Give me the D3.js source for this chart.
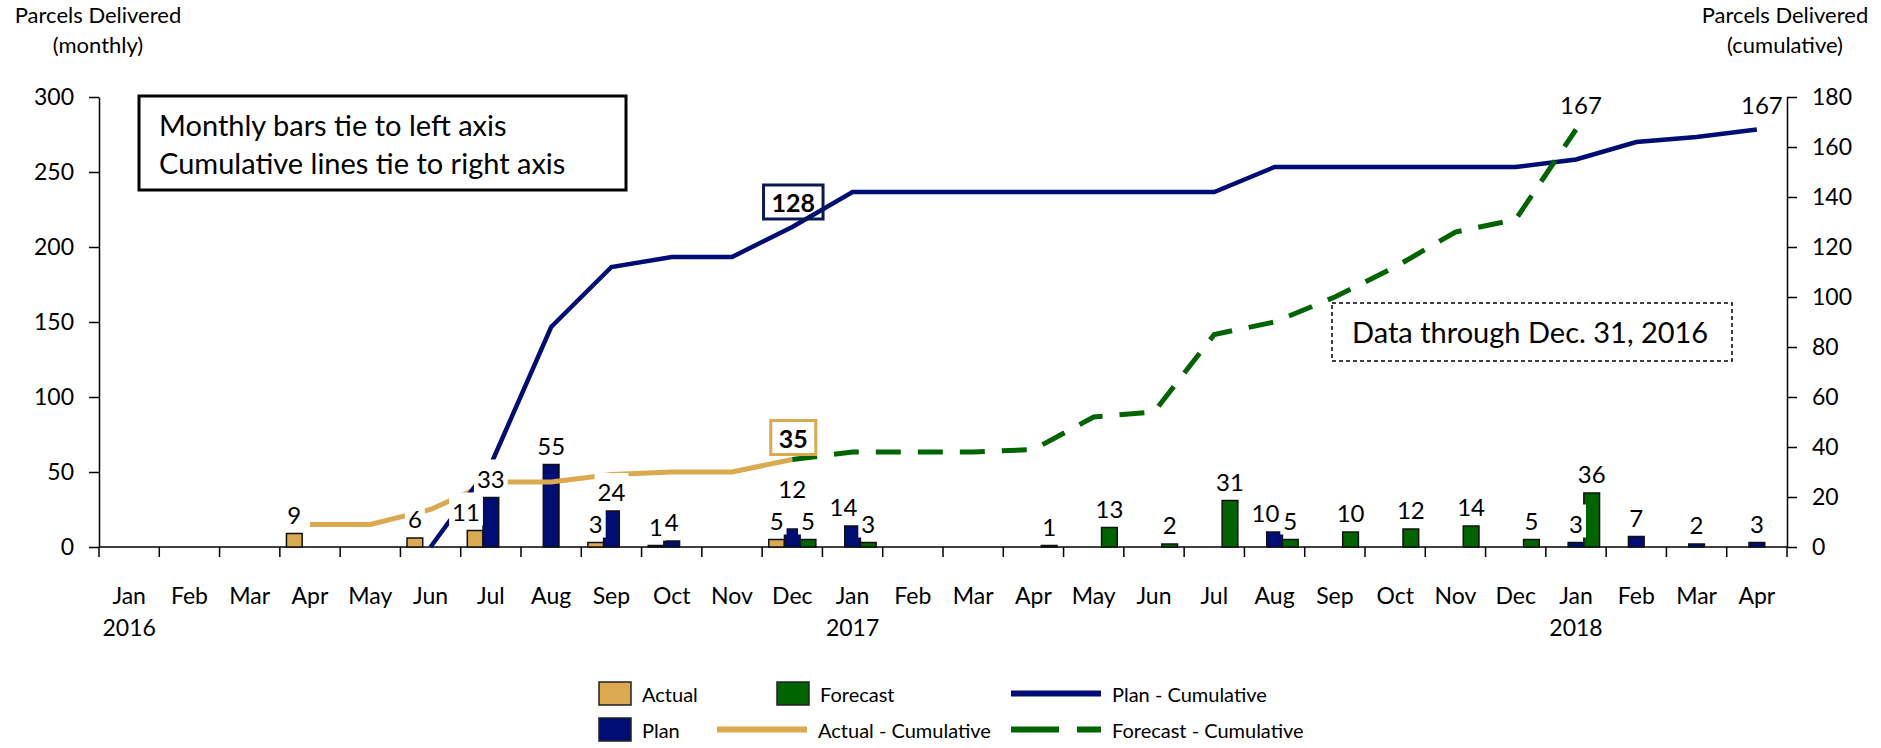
<!DOCTYPE html>
<html>
<head>
<meta charset="utf-8">
<script src="https://cdn.jsdelivr.net/npm/d3@7"></script>
<style>
  body { margin: 0; background: #fff; }
  svg { display: block; font-family: Lato, 'Open Sans', sans-serif; }
</style>
</head>
<body>
<svg id="chart" width="1881" height="748"></svg>
<script>
var categories = ['Jan 2016', 'Feb 2016', 'Mar 2016', 'Apr 2016', 'May 2016', 'Jun 2016', 'Jul 2016',
  'Aug 2016', 'Sep 2016', 'Oct 2016', 'Nov 2016', 'Dec 2016', 'Jan 2017', 'Feb 2017', 'Mar 2017',
  'Apr 2017', 'May 2017', 'Jun 2017', 'Jul 2017', 'Aug 2017', 'Sep 2017', 'Oct 2017', 'Nov 2017',
  'Dec 2017', 'Jan 2018', 'Feb 2018', 'Mar 2018', 'Apr 2018'];

var actualMonthly = [null, null, null, 9, null, 6, 11, null, 3, 1, null, 5,
  null, null, null, null, null, null, null, null, null, null, null, null, null, null, null, null];
var planMonthly = [null, null, null, null, null, null, 33, 55, 24, 4, null, 12,
  14, null, null, null, null, null, null, 10, null, null, null, null, 3, 7, 2, 3];
var forecastMonthly = [null, null, null, null, null, null, null, null, null, null, null, 5,
  3, null, null, 1, 13, 2, 31, 5, 10, 12, 14, 5, 36, null, null, null];

var actualCumulative = [null, null, null, 9, 9, 15, 26, 26, 29, 30, 30, 35,
  null, null, null, null, null, null, null, null, null, null, null, null, null, null, null, null];
var planCumulative = [null, null, null, null, null, 0, 33, 88, 112, 116, 116, 128,
  142, 142, 142, 142, 142, 142, 142, 152, 152, 152, 152, 152, 155, 162, 164, 167];
var forecastCumulative = [null, null, null, null, null, null, null, null, null, null, null, 35,
  38, 38, 38, 39, 52, 54, 85, 90, 100, 112, 126, 131, 167, null, null, null];

var leftTicks = [0, 50, 100, 150, 200, 250, 300];
var rightTicks = [0, 20, 40, 60, 80, 100, 120, 140, 160, 180];

var colors = { actual: '#dba94f', plan: '#000d75', forecast: '#006400' };

var svg = d3.select('#chart');
var plotLeft = 99, plotRight = 1787, plotTop = 97, plotBottom = 547;

var x = d3.scaleBand().domain(categories).range([plotLeft, plotRight]);
var xs = d3.scaleBand().domain(['actual', 'plan', 'forecast'])
  .range([0, x.bandwidth()]).paddingOuter(0.42);
var yLeft = d3.scaleLinear().domain([0, 300]).range([plotBottom, plotTop]);
var yRight = d3.scaleLinear().domain([0, 180]).range([plotBottom, plotTop]);

// axes
var axisLeft = svg.append('g')
  .attr('transform', 'translate(' + plotLeft + ',0)')
  .call(d3.axisLeft(yLeft).tickValues(leftTicks).tickSize(10).tickPadding(15).tickSizeOuter(0));
var axisRight = svg.append('g')
  .attr('transform', 'translate(' + plotRight + ',0)')
  .call(d3.axisRight(yRight).tickValues(rightTicks).tickSize(10).tickPadding(15).tickSizeOuter(0));
[axisLeft, axisRight].forEach(function (g) {
  g.select('.domain').attr('stroke', '#000').attr('stroke-width', 1.5);
  g.selectAll('.tick line').attr('stroke', '#000').attr('stroke-width', 1.5);
  g.selectAll('.tick text').attr('font-size', 23).attr('fill', '#000').attr('font-family', 'Lato');
});

var boundaries = categories.map(function (c) { return x(c); }).concat([plotRight]);
svg.append('line')
  .attr('x1', plotLeft).attr('x2', plotRight).attr('y1', plotBottom).attr('y2', plotBottom)
  .attr('stroke', '#000').attr('stroke-width', 1.5);
svg.selectAll('.xtick').data(boundaries).enter().append('line')
  .attr('class', 'xtick')
  .attr('x1', function (d) { return d; }).attr('x2', function (d) { return d; })
  .attr('y1', plotBottom).attr('y2', plotBottom + 10)
  .attr('stroke', '#000').attr('stroke-width', 1.5);

var xLabels = svg.selectAll('.xlabel').data(categories).enter().append('text')
  .attr('class', 'xlabel')
  .attr('text-anchor', 'middle')
  .attr('font-size', 23)
  .attr('x', function (d) { return x(d) + x.bandwidth() / 2; })
  .attr('y', 604);
xLabels.append('tspan').text(function (d) { return d.split(' ')[0]; });
xLabels.filter(function (d) { return d.indexOf('Jan') === 0; }).append('tspan')
  .attr('x', function (d) { return x(d) + x.bandwidth() / 2; })
  .attr('dy', 32)
  .text(function (d) { return d.split(' ')[1]; });

// axis titles
[[98, 'Parcels Delivered', '(monthly)'], [1785, 'Parcels Delivered', '(cumulative)']].forEach(function (t) {
  var g = svg.append('text').attr('text-anchor', 'middle').attr('font-size', 22);
  g.append('tspan').attr('x', t[0]).attr('y', 23).text(t[1]);
  g.append('tspan').attr('x', t[0]).attr('y', 53).text(t[2]);
});

// bars
var series = [
  { key: 'actual', values: actualMonthly },
  { key: 'plan', values: planMonthly },
  { key: 'forecast', values: forecastMonthly }
];
var barData = [];
series.forEach(function (s) {
  s.values.forEach(function (v, i) {
    if (v != null) barData.push({ key: s.key, cat: categories[i], index: i, value: v });
  });
});

svg.append('g').selectAll('rect').data(barData).enter().append('rect')
  .attr('x', function (d) { return x(d.cat) + xs(d.key); })
  .attr('width', xs.bandwidth())
  .attr('y', function (d) { return yLeft(d.value); })
  .attr('height', function (d) { return plotBottom - yLeft(d.value); })
  .attr('fill', function (d) { return colors[d.key]; })
  .attr('stroke', '#111')
  .attr('stroke-width', 1.5);

// cumulative lines
var line = d3.line()
  .defined(function (d) { return d != null; })
  .x(function (d, i) { return x(categories[i]) + x.bandwidth() / 2; })
  .y(function (d) { return yRight(d); });

svg.append('path').datum(actualCumulative)
  .attr('d', line).attr('fill', 'none')
  .attr('stroke', colors.actual).attr('stroke-width', 5);
svg.append('path').datum(planCumulative)
  .attr('d', line).attr('fill', 'none')
  .attr('stroke', colors.plan).attr('stroke-width', 4.5);
svg.append('path').datum(forecastCumulative)
  .attr('d', line).attr('fill', 'none')
  .attr('stroke', colors.forecast).attr('stroke-width', 5)
  .attr('stroke-dasharray', '25,17');

// value labels with white background
var labelLayer = svg.append('g');
function addLabel(cx, baseline, text, opts) {
  opts = opts || {};
  var g = labelLayer.append('g');
  var t = g.append('text')
    .attr('x', cx).attr('y', baseline)
    .attr('text-anchor', 'middle')
    .attr('font-size', opts.size || 24)
    .attr('font-weight', opts.bold ? 'bold' : null)
    .text(text);
  var b = t.node().getBBox();
  if (opts.box) {
    g.insert('rect', 'text')
      .attr('x', b.x - 8).attr('y', b.y - 2)
      .attr('width', b.width + 16).attr('height', b.height + 4)
      .attr('fill', 'none').attr('stroke', opts.box).attr('stroke-width', 3);
  } else {
    g.insert('rect', 'text')
      .attr('x', b.x - 3).attr('y', b.y - 4)
      .attr('width', b.width + 6).attr('height', b.height + 4)
      .attr('fill', '#fff');
  }
  return g;
}

// the plan label in Dec 2016 sits between two others, so it is lifted
var raisedLabels = { 'Dec 2016|plan': 21 };
var slotKeys = ['actual', 'plan', 'forecast'];
barData.forEach(function (d) {
  var barX = x(d.cat) + xs(d.key);
  var cx = barX + xs.bandwidth() / 2;
  var label = String(d.value);
  var raise = raisedLabels[d.cat + '|' + d.key] || 0;
  var nextKey = slotKeys[slotKeys.indexOf(d.key) + 1];
  var nextHasValue = nextKey && barData.some(function (o) { return o.cat === d.cat && o.key === nextKey; });
  if (!raise && label.length > 1 && nextHasValue) {
    cx = barX + xs.bandwidth() - 5 - 12;
  }
  addLabel(cx, yLeft(d.value) - 10 - raise, label);
});

// callouts on cumulative lines
var decIndex = categories.indexOf('Dec 2016');
var decX = x('Dec 2016') + x.bandwidth() / 2;
addLabel(decX + 1, yRight(planCumulative[decIndex]) - 15, String(planCumulative[decIndex]),
  { bold: true, box: '#0b1a55', size: 25 });
addLabel(decX + 1, yRight(actualCumulative[decIndex]) - 12, String(actualCumulative[decIndex]),
  { bold: true, box: colors.actual, size: 25 });

var fcLast = d3.max(forecastCumulative.map(function (v, i) { return v != null ? i : -1; }));
addLabel(x(categories[fcLast]) + x.bandwidth() / 2 + 5, 114, String(forecastCumulative[fcLast]));
var planLast = planCumulative.length - 1;
addLabel(x(categories[planLast]) + x.bandwidth() / 2 + 5, 114, String(planCumulative[planLast]));

// note boxes
svg.append('rect')
  .attr('x', 139).attr('y', 96).attr('width', 487).attr('height', 94)
  .attr('fill', '#fff').attr('stroke', '#000').attr('stroke-width', 3);
svg.append('text').attr('x', 159).attr('y', 136).attr('font-size', 29)
  .text('Monthly bars tie to left axis');
svg.append('text').attr('x', 159).attr('y', 174).attr('font-size', 29)
  .text('Cumulative lines tie to right axis');

svg.append('rect')
  .attr('x', 1332).attr('y', 303).attr('width', 400).attr('height', 58)
  .attr('fill', '#fff').attr('stroke', '#000').attr('stroke-width', 1.5)
  .attr('stroke-dasharray', '4,3');
svg.append('text').attr('x', 1352).attr('y', 343).attr('font-size', 29)
  .text('Data through Dec. 31, 2016');

// legend
var legend = svg.append('g').attr('font-size', 20);
var swatches = [
  { key: 'actual', label: 'Actual', x: 599, row: 0 },
  { key: 'plan', label: 'Plan', x: 599, row: 1 },
  { key: 'forecast', label: 'Forecast', x: 777, row: 0 }
];
var rowMid = [693.5, 729.5];
swatches.forEach(function (s) {
  legend.append('rect')
    .attr('x', s.x).attr('y', rowMid[s.row] - 11.5).attr('width', 32).attr('height', 23)
    .attr('fill', colors[s.key]).attr('stroke', '#222').attr('stroke-width', 1.5);
  legend.append('text').attr('x', s.x + 43).attr('y', rowMid[s.row] + 8).text(s.label);
});
var lineItems = [
  { key: 'actual', label: 'Actual - Cumulative', x: 717, row: 1, dash: null },
  { key: 'plan', label: 'Plan - Cumulative', x: 1011, row: 0, dash: null },
  { key: 'forecast', label: 'Forecast - Cumulative', x: 1011, row: 1, dash: '48,18' }
];
lineItems.forEach(function (s) {
  legend.append('line')
    .attr('x1', s.x).attr('x2', s.x + 90)
    .attr('y1', rowMid[s.row]).attr('y2', rowMid[s.row])
    .attr('stroke', colors[s.key]).attr('stroke-width', 6)
    .attr('stroke-dasharray', s.dash);
  legend.append('text').attr('x', s.x + 101).attr('y', rowMid[s.row] + 8).text(s.label);
});
</script>
</body>
</html>
